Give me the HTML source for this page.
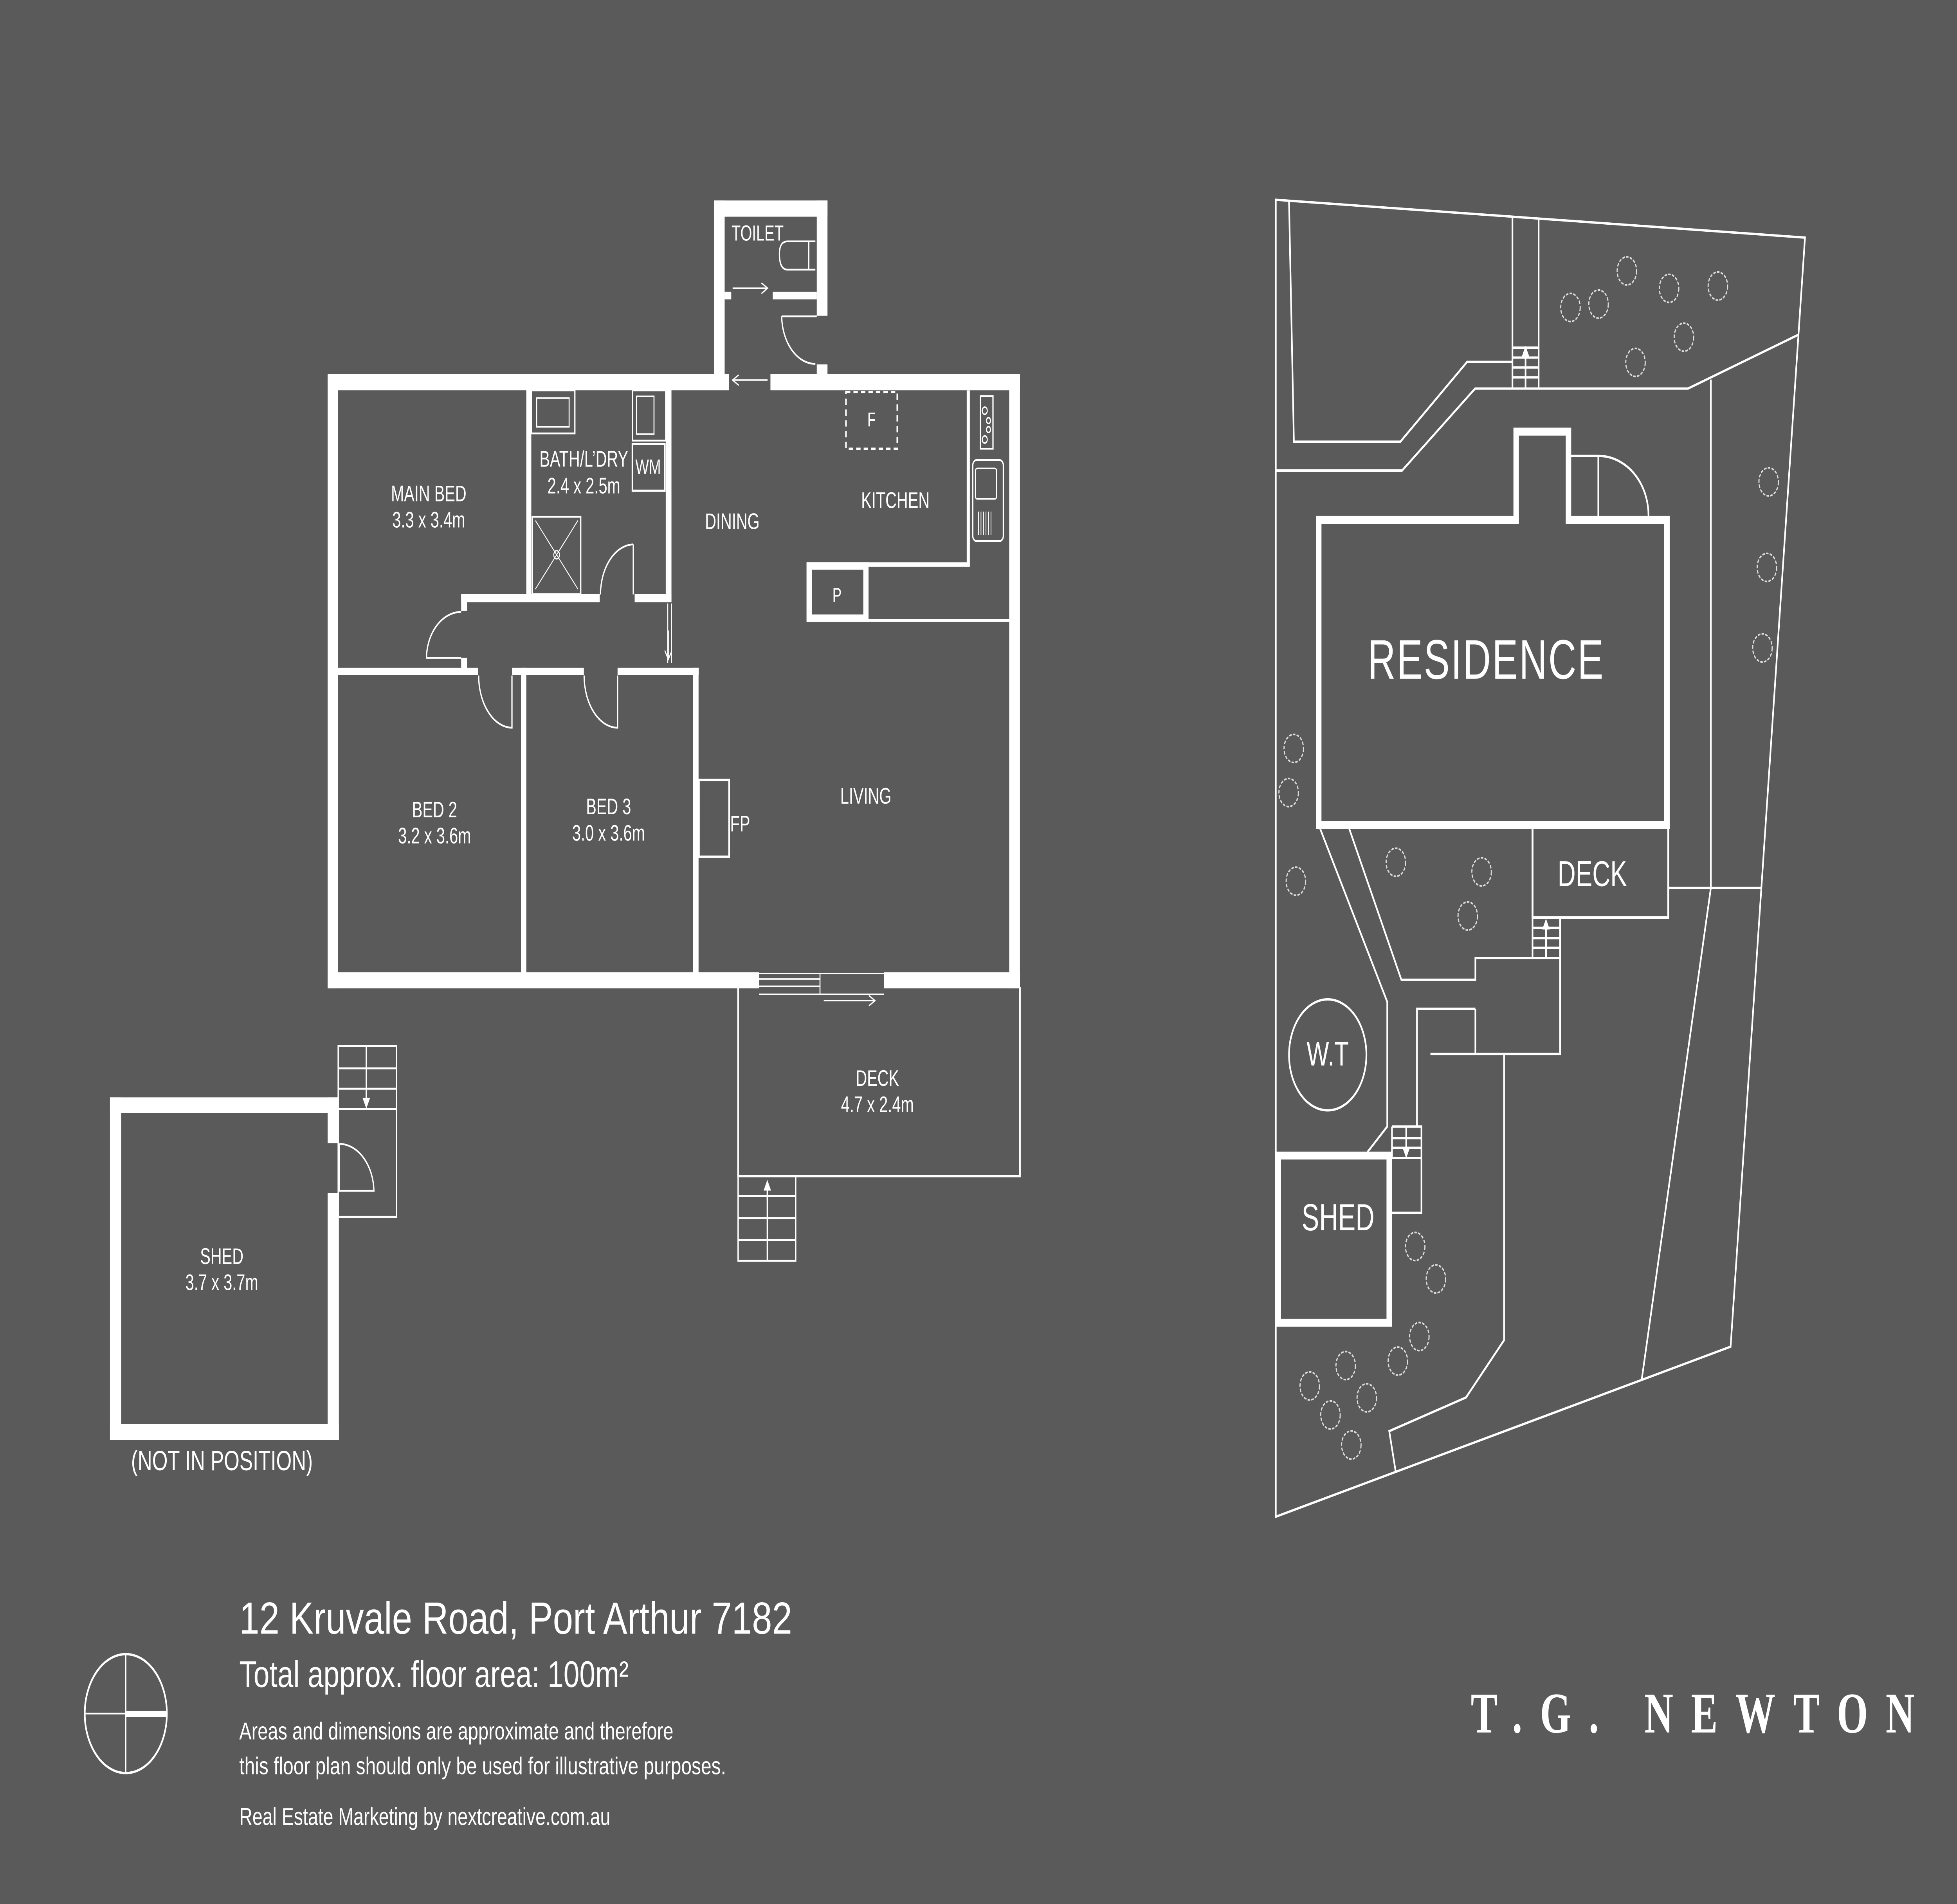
<!DOCTYPE html>
<html><head><meta charset="utf-8">
<style>
html,body{margin:0;padding:0;background:#5a5a5a;width:100%;height:100%;overflow:hidden;}
svg{display:block;position:fixed;left:0;top:0;width:100vw;height:100vh;}
text{font-family:"Liberation Sans",sans-serif;fill:#fff;}
</style></head>
<body>
<svg viewBox="0 0 1568 1057" preserveAspectRatio="none" xmlns="http://www.w3.org/2000/svg">
<defs>
<marker id="ah" markerWidth="6" markerHeight="6" refX="5" refY="3" orient="auto" markerUnits="userSpaceOnUse"><path d="M0 0 L6 3 L0 6 Z" fill="#fff"/></marker>
<marker id="oa" markerWidth="6" markerHeight="6" refX="5" refY="3" orient="auto" markerUnits="userSpaceOnUse"><path d="M0 0 L5 3 L0 6" fill="none" stroke="#fff" stroke-width="0.8"/></marker>
</defs>
<rect width="1568" height="1057" fill="#5a5a5a"/>
<!-- ===== FLOOR PLAN WALLS ===== -->
<g fill="#fff">
<rect x="262.5" y="207.7" width="321.7" height="9"/>
<rect x="617.3" y="207.7" width="199.9" height="9"/>
<rect x="262.5" y="207.7" width="8.3" height="341"/>
<rect x="808.6" y="207.7" width="8.6" height="341"/>
<rect x="262.5" y="539.8" width="345.8" height="8.9"/>
<rect x="708.4" y="539.8" width="108.8" height="8.9"/>
<rect x="572" y="111.3" width="8.6" height="105"/>
<rect x="572" y="111.3" width="91" height="9"/>
<rect x="654.4" y="111.3" width="8.6" height="64"/>
<rect x="654.4" y="202.3" width="8.6" height="10"/>
<rect x="580.6" y="162" width="5.3" height="4.2"/>
<rect x="619.1" y="162" width="35.3" height="4.2"/>
<rect x="421.7" y="216" width="4" height="114"/>
<rect x="369.5" y="329.8" width="111" height="4.5"/>
<rect x="508.5" y="329.8" width="29.5" height="4.5"/>
<rect x="533.4" y="216" width="4.6" height="118"/>
<rect x="369.5" y="329.8" width="4.7" height="9.3"/>
<rect x="369.5" y="365.2" width="4.7" height="8"/>
<rect x="270" y="370.7" width="113.2" height="4"/>
<rect x="410.2" y="370.7" width="57.6" height="4"/>
<rect x="494.8" y="370.7" width="65" height="4"/>
<rect x="417.4" y="370.7" width="4.3" height="170"/>
<rect x="555.3" y="370.7" width="4.4" height="170"/>
<!-- shed walls -->
<rect x="88.1" y="609.2" width="9" height="190.1"/>
<rect x="88.1" y="609.2" width="183.4" height="8.8"/>
<rect x="88.1" y="790.4" width="183.4" height="8.9"/>
<rect x="262.5" y="609.2" width="9" height="25.4"/>
<rect x="262.5" y="662.2" width="9" height="137.1"/>
</g>
<g stroke="#fff" fill="none">
<!-- kitchen -->
<path d="M695.8 313.4 H775.8 V216.7" stroke-width="2.5"/>
<rect x="648.3" y="314.2" width="45.5" height="29" stroke-width="4.2"/>
<path d="M695.8 344.5 H808.6" stroke-width="1.5"/>
<rect x="677.8" y="217.6" width="41.1" height="31.5" stroke-width="1.2" stroke-dasharray="3.5 2.5"/>
<rect x="785.5" y="219.9" width="10.1" height="29.2" stroke-width="1"/>
<g stroke-width="0.8"><circle cx="789" cy="228" r="2"/><circle cx="792" cy="233.5" r="1.6"/><circle cx="792" cy="238.5" r="1.6"/><circle cx="789" cy="244" r="2"/></g>
<rect x="779.4" y="255.4" width="24.5" height="45" rx="3" stroke-width="1"/>
<rect x="781.5" y="260" width="17" height="17" rx="1.5" stroke-width="0.8"/>
<path d="M784 284 V297 M786 284 V297 M788 284 V297 M790 284 V297 M792 284 V297 M794 284 V297" stroke-width="0.6"/>
<!-- bath fixtures -->
<rect x="425.7" y="216.7" width="34.9" height="23.9" stroke-width="1"/>
<rect x="430" y="221" width="26" height="16" stroke-width="0.8"/>
<rect x="506.7" y="216.7" width="26.7" height="27.9" stroke-width="1"/>
<rect x="510" y="220" width="14" height="21" stroke-width="0.8"/>
<rect x="506.7" y="246.4" width="26" height="26" stroke-width="1.2"/>
<rect x="426.4" y="286.9" width="38.9" height="42.9" stroke-width="1"/>
<path d="M429 289 L463 327 M463 289 L429 327" stroke-width="0.6"/>
<circle cx="446" cy="308" r="2.3" stroke-width="0.7"/>
<!-- toilet bowl -->
<path d="M653.3 134 H631 Q624.5 134 624.5 141 Q624.5 149.7 631 149.7 H653.3 M648 134 V149.7" stroke-width="1"/>
<!-- doors -->
<g stroke-width="1">
<path d="M369.5 339.7 A28 26 0 0 0 341.7 365.2 H369.5"/>
<path d="M507.4 302.2 A27 28 0 0 0 481.1 330 M507.4 302.2 V330"/>
<path d="M626.3 175.6 H654.4 M626.3 175.6 A27 27 0 0 0 653.3 202"/>
<path d="M410.2 375 V404 A27 29 0 0 1 383.5 375"/>
<path d="M494.8 375 V404 A27 29 0 0 1 468 375"/>
<path d="M271.9 635 A28 27 0 0 1 299.6 661.1 H271.5"/>
<path d="M271.9 635 V661"/>
</g>
<g stroke-width="0.8">
<path d="M587 160 H615" marker-end="url(#oa)"/>
<path d="M615 211 H587" marker-end="url(#oa)"/>
<path d="M535 335 V368 M538 335 V368"/>
<path d="M535.5 350 V366" marker-end="url(#oa)"/>
<path d="M608.3 540.5 H708.4 M608.3 543.5 H657 M608.3 547.5 H657 M657 540 V552 M608.3 552 H708.4"/>
<path d="M660 555.5 H701" marker-end="url(#oa)"/>
</g>
<rect x="560" y="433" width="24.2" height="42.6" stroke-width="1.3"/>
<!-- deck -->
<path d="M591.4 548 V652.9 H817.2 V548" stroke-width="1.3"/>
<g stroke-width="1.1"><rect x="591.4" y="652.9" width="46.1" height="47"/>
<path d="M591.4 664 H637.5 M591.4 676.2 H637.5 M591.4 688.4 H637.5 M614.8 699.9 V664"/></g>
<path d="M614.8 666 V656" stroke-width="1.1" marker-end="url(#ah)"/>
<!-- shed stairs -->
<g stroke-width="1.1"><rect x="271" y="580.7" width="46.6" height="94.8"/>
<path d="M271 593.1 H317.6 M271 604.4 H317.6 M271 615.6 H317.6 M293.5 580.7 V608"/></g>
<path d="M293.5 604 V614.5" stroke-width="1.1" marker-end="url(#ah)"/>
<!-- compass -->
<ellipse cx="100.8" cy="951.3" rx="32.9" ry="33" stroke-width="1.3"/>
<path d="M100.8 918.3 V984.3 M67.9 951.3 H100.8" stroke-width="0.9"/>
<path d="M100.8 951.6 H133.7" stroke-width="3.5"/>
<!-- ===== SITE PLAN ===== -->
<g stroke-width="1.3">
<path d="M1022.2 110.9 L1446.2 131.9 L1386.6 747.6 L1022.2 842 Z"/>
<path d="M1032.8 111.7 L1036.7 245.2 H1122 L1175.5 200.9 H1211.8"/>
<path d="M1022.2 261.2 H1123.4 L1181.9 215.7 H1352.5 L1440.7 185.9"/>
<path d="M1211.8 120.6 V215.7 M1232.8 121.8 V215.7"/>
<path d="M1211.8 193 H1232.8 M1211.8 198.5 H1232.8 M1211.8 204 H1232.8 M1211.8 209.5 H1232.8 M1222.3 215.7 V196"/>
<path d="M1370.8 210.7 V492.9 M1336.7 492.9 H1411.6 M1370.8 492.9 L1315.4 765.8"/>
<path d="M1057.7 460 L1111.5 556.2 V625.4 L1095.7 639.5"/>
<path d="M1081 460 L1122.8 543.9 H1182.1 V531.8 H1250 V585.1 H1146.1 M1182.1 560 V585.1 M1182.1 560 H1135.3 V625.4"/>
<path d="M1205.1 585.1 V744 L1174.6 775.8 L1113.1 794.5 L1118.4 817.6"/>
<path d="M1227.9 509.3 V531.8 M1250 509.3 V531.8 M1227.9 515.1 H1250 M1227.9 520.8 H1250 M1227.9 526.2 H1250 M1238.7 531.8 V516"/>
<path d="M1115.3 625.4 H1138.9 V673.3 H1115.3 M1115.3 625.4 V642.8 M1115.3 631.8 H1138.9 M1115.3 637.2 H1138.9 M1115.3 642.8 H1138.9 M1126.7 625.4 V638"/>
<path d="M1255 253.1 H1280.6 V286.5 M1280.6 253.1 A40 33 0 0 1 1320.7 288.6"/>
<path d="M1227.9 460 V509.3 H1336.7 V460" stroke-width="1.5"/>
<ellipse cx="1063.8" cy="585.6" rx="31" ry="30.8"/>
</g>
<g stroke-width="1">
<path d="M1238.7 518 V511" marker-end="url(#ah)"/>
<path d="M1126.7 636 V642" marker-end="url(#ah)"/>
<path d="M1222.3 200 V193" marker-end="url(#ah)"/>
</g>
<path d="M1056.6 288.6 H1214.8 V239.6 H1256.7 V288.6 H1335.6 V457.9 H1056.6 Z" stroke-width="4.4"/>
<rect x="1024.2" y="641.5" width="88.9" height="92.8" stroke-width="4.4"/>
<g stroke-width="0.9" stroke="#ddd" stroke-dasharray="2 1">
<circle cx="1303.5" cy="150.4" r="7.8"/><circle cx="1258.3" cy="170.7" r="7.8"/><circle cx="1280.8" cy="168.8" r="7.8"/><circle cx="1337.3" cy="160.1" r="7.8"/><circle cx="1376.4" cy="158.8" r="7.8"/><circle cx="1349.2" cy="187.2" r="7.8"/><circle cx="1310.4" cy="201.2" r="7.8"/>
<circle cx="1417.1" cy="267.5" r="7.8"/><circle cx="1415.7" cy="315" r="7.8"/><circle cx="1412.1" cy="359.7" r="7.8"/>
<circle cx="1036.6" cy="415.5" r="7.8"/><circle cx="1032.5" cy="440" r="7.8"/><circle cx="1038.3" cy="489.2" r="7.8"/>
<circle cx="1118.4" cy="478.7" r="7.8"/><circle cx="1187.1" cy="484" r="7.8"/><circle cx="1176" cy="508.5" r="7.8"/>
<circle cx="1133.9" cy="692" r="7.8"/><circle cx="1150.5" cy="710" r="7.8"/><circle cx="1137.2" cy="742" r="7.8"/><circle cx="1120" cy="755.6" r="7.8"/>
<circle cx="1078.2" cy="758.1" r="7.8"/><circle cx="1049.4" cy="769.4" r="7.8"/><circle cx="1095.1" cy="776" r="7.8"/><circle cx="1066" cy="785.5" r="7.8"/><circle cx="1082.7" cy="802.2" r="7.8"/>
</g>
</g>
<!-- ===== LABELS ===== -->
<g font-size="12.5" text-anchor="middle">
<text x="607" y="133.5" font-size="12">TOILET</text>
<text x="343.5" y="278.3">MAIN BED</text><text x="343.5" y="292.8">3.3 x 3.4m</text>
<text x="467.8" y="259">BATH/L’DRY</text><text x="467.8" y="273.9">2.4 x 2.5m</text>
<text x="519.3" y="263.1" font-size="11.5">WM</text>
<text x="586.7" y="293.7">DINING</text>
<text x="717.4" y="282">KITCHEN</text>
<text x="698.3" y="236.8" font-size="11">F</text>
<text x="670.6" y="334.1" font-size="11">P</text>
<text x="348.2" y="453.8">BED 2</text><text x="348.2" y="468.2">3.2 x 3.6m</text>
<text x="487.6" y="452">BED 3</text><text x="487.6" y="466.7">3.0 x 3.6m</text>
<text x="693.7" y="446.1">LIVING</text>
<text x="593" y="461.6">FP</text>
<text x="703" y="602.8">DECK</text><text x="703" y="617.4">4.7 x 2.4m</text>
<text x="177.7" y="701.7">SHED</text><text x="177.7" y="716.2">3.7 x 3.7m</text>
</g>
<text x="105" y="816.2" font-size="15.5" textLength="145.6" lengthAdjust="spacingAndGlyphs">(NOT IN POSITION)</text>
<text x="1190.7" y="376.8" font-size="31" text-anchor="middle" letter-spacing="1">RESIDENCE</text>
<text x="1275.8" y="491.9" font-size="20" text-anchor="middle">DECK</text>
<text x="1063.8" y="591.5" font-size="19" text-anchor="middle">W.T</text>
<text x="1072.1" y="683" font-size="21" text-anchor="middle">SHED</text>
<text x="191.7" y="906.9" font-size="25" textLength="443" lengthAdjust="spacingAndGlyphs">12 Kruvale Road, Port Arthur 7182</text>
<text x="191.7" y="936.5" font-size="20.5" textLength="312" lengthAdjust="spacingAndGlyphs">Total approx. floor area: 100m²</text>
<text x="191.7" y="965.6" font-size="13.5" textLength="347.8" lengthAdjust="spacingAndGlyphs">Areas and dimensions are approximate and therefore</text>
<text x="191.7" y="985" font-size="13.5" textLength="390" lengthAdjust="spacingAndGlyphs">this floor plan should only be used for illustrative purposes.</text>
<text x="191.7" y="1013.1" font-size="13.5" textLength="297.3" lengthAdjust="spacingAndGlyphs">Real Estate Marketing by nextcreative.com.au</text>
<text x="1178.4" y="961.8" font-size="32" font-weight="bold" textLength="355.6" lengthAdjust="spacing" style="font-family:'Liberation Serif',serif">T.G. NEWTON</text>
</svg>
</body></html>
